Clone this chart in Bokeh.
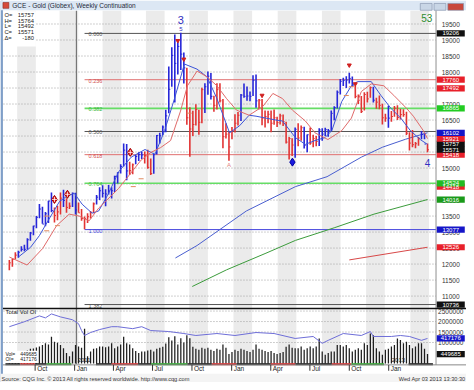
from bokeh.plotting import figure
from bokeh.models import Range1d
from bokeh.core.properties import value
from bokeh.embed import file_html
from bokeh.resources import INLINE

# ---------------- data (weekly bars, week 0 = 2 Aug 2010, prices in 1/10 $) -------------
high = [12130,12170,12370,12420,12560,12600,12810,13000,13200,13500,
        13880,13790,13630,13980,14240,13770,13820,14240,14320,14060,
        13920,14240,14230,13920,13720,13490,13590,13660,13920,14160,
        14400,14460,14340,14470,14400,14760,14870,15120,15770,15750,
        15200,15140,15410,15490,15500,15520,15570,15300,15450,16030,
        16100,16330,16820,18170,18770,19170,18960,19230,18610,18130,
        16900,16790,16990,16820,17510,17650,18020,17970,17260,17650,
        17650,17160,16400,16140,16280,16680,16750,17310,17640,17550,
        17390,17900,17920,17160,17160,16800,16790,16800,16830,16600,
        16700,16670,16450,15970,15930,16270,16400,16330,16290,16050,
        16270,16040,16000,16240,16240,16260,16220,16800,16930,17420,
        17780,17820,17870,17980,17860,17570,17300,17250,17370,17380,
        17550,17540,17200,17270,17010,16700,16950,16780,16940,16960,
        16850,16840,16760,16120,16190,15810,15970,16160,16100,15764]
low = [11810,11920,12150,12200,12390,12400,12450,12730,12900,13120,
       13430,13260,13180,13280,13620,13300,13370,13550,13780,13600,
       13720,13780,13550,13600,13350,13090,13280,13420,13590,13860,
       14000,14080,13810,14170,14050,14250,14520,14830,15050,14620,
       14780,14810,15120,15220,15280,15140,14980,14780,14820,15420,
       15770,16030,16120,16710,17540,17050,17920,18060,17640,16350,
       15350,16000,16330,16040,16400,16720,17290,17140,16760,16830,
       17050,15620,15920,15230,15900,16110,16330,16470,17200,17100,
       17090,17250,16880,16840,16340,16270,16400,16120,16350,16280,
       16360,16310,15770,15270,15380,15320,15680,15850,15610,15490,
       15730,15650,15680,15690,15850,16000,15980,16150,16490,16860,
       17300,17560,17500,17640,17540,17180,17000,16720,16800,17050,
       17200,17050,16850,16840,16360,16450,16260,16450,16600,16500,
       16520,16600,16030,15550,15650,15620,15700,15900,15900,15492]
close = [12040,12150,12280,12370,12460,12460,12760,12970,13190,13460,
         13720,13250,13570,13970,13670,13520,13630,14060,13990,13770,
         13810,14210,13690,13600,13420,13420,13480,13610,13880,14090,
         14290,14210,14190,14280,14290,14740,14860,15050,15560,14910,
         14920,15100,15360,15420,15410,15390,15020,14830,15420,16020,
         16010,16280,16630,17460,18520,18270,18800,18560,18130,16570,
         16220,16360,16830,16430,17450,17540,17870,17240,16960,17450,
         17100,15980,16060,15660,16170,16400,16650,17280,17240,17250,
         17240,17740,17100,17120,16560,16610,16680,16400,16570,16420,
         16630,16450,15810,15920,15720,16210,15940,16260,15710,16040,
         15780,15920,15830,16190,16060,16200,16170,16710,16890,17370,
         17710,17740,17750,17800,17590,17240,17120,16770,17300,17160,
         17510,17120,17060,16960,16570,16560,16560,16610,16870,16580,
         16670,16670,16090,15780,15730,15760,15920,16050,15751,15571]
trend_runs = [("r", 3), ("b", 12), ("r", 3), ("b", 1), ("r", 2), ("b", 2), ("r", 6),
              ("b", 11), ("r", 2), ("b", 3), ("r", 3), ("b", 11), ("r", 6), ("b", 3),
              ("r", 9), ("b", 6), ("r", 12), ("b", 1), ("r", 2), ("b", 2), ("r", 3),
              ("b", 12), ("r", 6), ("b", 1), ("r", 4), ("b", 1), ("r", 10), ("b", 2), ("r", 1)]
vol_k = [480,450,520,500,560,600,620,700,720,760,
         810,880,960,900,1275,1040,995,880,730,495,
         340,575,880,810,750,1660,340,575,700,730,
         810,810,780,810,960,730,810,900,1275,960,
         900,730,600,495,575,575,620,650,575,700,
         750,800,950,1250,1100,1300,900,1200,1000,1350,
         1200,800,700,650,750,700,750,650,600,700,
         650,900,750,450,550,650,600,700,650,600,
         550,650,900,700,650,600,550,600,500,450,
         500,550,800,900,750,730,730,810,650,730,
         810,730,810,1195,575,415,495,575,575,880,
         880,810,880,730,575,650,730,650,960,880,
         1430,1350,730,575,415,650,700,810,880,1195,
         1115,960,1040,880,730,810,960,960,700,449.685]
oi_week = [0, 5, 10, 12, 14, 17, 21, 23, 24, 25, 27, 30, 34, 36, 41, 44, 47, 53, 58, 62,
           69, 75, 82, 88, 95, 101, 104, 106, 111, 117, 120, 121, 127, 130, 133, 137, 139]
oi_val = [536000, 586000, 645000, 625000, 665000, 635000, 606000, 566000, 497000, 447000,
          477000, 507000, 536000, 536000, 516000, 536000, 497000, 487000, 467000, 447000,
          467000, 447000, 477000, 467000, 417000, 437000, 368000, 398000, 467000, 447000,
          487000, 437000, 437000, 447000, 437000, 398000, 417176]
fast_ma_week = [3, 7, 10, 13.4, 16.7, 19, 21.6, 24.2, 27.5, 29.7, 33, 36.3, 40.5, 45.1, 48.4,
                51.6, 54.9, 58.2, 62.4, 65.7, 69, 73.2, 76.5, 79.7, 82, 85.3, 88.6, 90.8, 95.1,
                98.4, 101.6, 104.9, 107.2, 110.5, 113.7, 115.7, 120.3, 123.5, 126.8, 130.1,
                133.3, 136.6, 139]
fast_ma_val = [12220, 12520, 12890, 13440, 13960, 14110, 14210, 13870, 13590, 13660, 14210,
               14880, 15340, 15580, 15430, 16170, 17170, 18250, 18090, 17850, 17170, 16100,
               16320, 16650, 16620, 16560, 16500, 16470, 15950, 15740, 15860, 15950, 16170,
               17080, 17570, 17700, 17700, 17270, 16870, 16560, 16170, 15890, 15740]
slow_ma_week = [0, 5.9, 11.1, 15.7, 19.9, 23.2, 26.5, 29.7, 36.3, 43.8, 47.1, 50.3, 53.6, 56.9,
                59.2, 62.4, 65.7, 69, 72.2, 75.5, 79.7, 84.3, 87.6, 90.8, 94.1, 98.4, 101.6,
                105.9, 110.5, 113.7, 117, 120.3, 124.5, 127.8, 132, 134.3, 137.6, 139]
slow_ma_val = [12220, 11970, 12490, 13200, 13560, 13500, 13350, 13750, 14360, 15250, 15490,
               15640, 15860, 16780, 17570, 18030, 17850, 17570, 17170, 16810, 16650, 16930,
               17330, 17170, 16810, 16470, 16100, 15890, 16170, 16560, 17390, 17630, 17570,
               17270, 16870, 16620, 16170, 15921]
long_blue_week = [55.2, 62.4, 78.8, 95.1, 105.6, 117, 124, 131.7, 139]
long_blue_val = [12190, 12580, 13660, 14420, 14730, 15340, 15650, 15900, 16102]
long_green_week = [60.8, 72.2, 85.3, 95.1, 108.2, 121.2, 139]
long_green_val = [11300, 11820, 12340, 12740, 13140, 13560, 14016]
long_red_week = [113, 139]
long_red_val = [12130, 12526]

fib_start_week = 25
fib_ratio = ["0.000", "0.236", "0.382", "0.500", "0.618", "0.764", "1.000", "1.382"]
fib_level = [19206, 17760, 16865, 16142, 15418, 14524, 13077, 10736]
fib_color = ["#555555", "#e07070", "#66dd66", "#555555", "#e07070", "#66dd66", "#4444dd", "#555555"]
fib_text_color = ["#555555", "#d05050", "#3cb83c", "#555555", "#d05050", "#3cb83c", "#4444dd", "#555555"]

price_ticks = [11000, 11500, 12000, 12500, 13000, 13500, 14000, 14500, 15000, 15500, 16000,
               16500, 17000, 17500, 18000, 18500, 19000, 19500]
price_tick_labels = ["11000", "11500", "12000", "12500", "13000", "13500", "14000", "14500",
                     "15000", "15500", "16000", "16500", "17000", "17500", "18000", "18500",
                     "19000", "19500"]
value_boxes = [10736, 12526, 13077, 14016, 14418, 14524, 15418, 15571, 15757, 15921, 16102,
               16865, 17492, 17760, 19206]
value_box_color = ["#111111", "#e8202a", "#1515c8", "#1a9a1a", "#e8202a", "#22bb22", "#e8202a",
                   "#111111", "#111111", "#e8202a", "#1515c8", "#22cc22", "#e8202a", "#e8202a",
                   "#111111"]
vol_ticks_k = [1000, 1500, 2000, 2500]
vol_tick_labels = ["1000000", "1500000", "2000000", "2500000"]

quarter_week = [8.57, 21.7, 34.6, 47.6, 60.7, 73.9, 86.9, 99.9, 113.0, 126.1]
quarter_label = ["Oct", "Jan", "Apr", "Jul", "Oct", "Jan", "Apr", "Jul", "Oct", "Jan"]
year_week = [21.7, 126.1]
year_label = ["2011", "2013"]
stripe_start = [2.6, 16.7, 31.0, 45.4, 59.8, 74.5, 89.2, 103.9, 118.6, 133.3]
stripe_len = 6.2
season_start = [-1.3, 3.6, 8.5, 12.4, 28.8, 34.0, 42.8, 47.1, 59.2, 67.3, 75.5, 86.9, 95.1, 107.2, 113.7, 132.7]
season_end = [3.6, 8.5, 12.4, 20.6, 34.0, 42.8, 47.1, 59.2, 67.3, 75.5, 86.9, 95.1, 107.2, 113.7, 124.5, 140.8]
season_col = ["k", "r", "k", "g", "k", "r", "k", "g", "k", "r", "k", "r", "k", "r", "g", "k"]

signal_red_week = [15, 19.3, 40.2]
signal_red_val = [14020, 14180, 15490]
signal_blue_week = [94.1]
signal_blue_val = [15185]
top_mark_week = [56, 58, 84, 113, 115]
top_mark_val = [18980, 18400, 17270, 18215, 17630]
swing_week = [12.4, 16, 12.4, 43.8, 41.2, 59.8, 112, 113.7]
swing_val = [13500, 13200, 13040, 14665, 14420, 16715, 17266, 17542]

ohlc_names = ["O=", "H=", "L=", "C=", "\u0394="]
ohlc_values = ["15757", "15764", "15492", "15571", "-180"]

# ---------------- figure -------------
FONT = value("Liberation Sans")
BLUE, RED = "#2727d8", "#e23434"
p = figure(width=466, height=382, x_range=Range1d(-2.941, 151.96), y_range=Range1d(8300.4, 20234.4),
           output_backend="svg", toolbar_location=None, x_axis_type=None, y_axis_type=None,
           min_border=0)
p.outline_line_color = None
p.background_fill_color = "white"
p.border_fill_color = "white"
p.extra_x_ranges = {"px": Range1d(0, 474)}
p.extra_y_ranges = {"px": Range1d(390, 0), "vol": Range1d(-905.98, 17307.02),
                    "oi": Range1d(-28100, 3832900)}
PX = dict(x_range_name="px", y_range_name="px")
right_edge = 141.83
left_edge = -1.95


def txt(xs, ys, texts, size="6.5px", color="#222222", align="left", baseline="middle",
        xr="px", yr="px", style="normal", xo=0, yo=0):
    p.text(x=list(xs), y=list(ys), text=list(texts), text_font=FONT, text_font_size=size,
           text_color=color, text_align=align, text_baseline=baseline, text_font_style=style,
           x_offset=xo, y_offset=yo, x_range_name=xr, y_range_name=yr)


# stripes (both panels)
p.quad(left=stripe_start, right=[s + stripe_len for s in stripe_start], top=10.5, bottom=371,
       y_range_name="px", fill_color="#ebebeb", line_color=None)
# horizontal dotted grid
p.segment(x0=left_edge, x1=right_edge, y0=price_ticks, y1=price_ticks, line_color="#a0a0a0",
          line_dash="1 2", line_width=1)
p.segment(x0=left_edge, x1=right_edge, y0=vol_ticks_k, y1=vol_ticks_k, y_range_name="vol",
          line_color="#a0a0a0", line_dash="1 2", line_width=1)
# year line (cursor)
p.segment(x0=[22.3], x1=[22.3], y0=[10.5], y1=[371], y_range_name="px", line_color="#777777", line_width=1.2)

# fib retracement lines
for lv, c, r in zip(fib_level, fib_color, fib_ratio):
    p.segment(x0=[fib_start_week], x1=[right_edge], y0=[lv], y1=[lv], line_color=c,
              line_width=1.6 if c == "#66dd66" else 1)
txt([fib_start_week] * len(fib_level), fib_level, fib_ratio, size="5.5px", color=fib_text_color,
    xr="default", yr="default", xo=4, yo=1)

# long moving averages
p.line(long_blue_week, long_blue_val, line_color="#4a5fd0", line_width=1)
p.line(long_green_week, long_green_val, line_color="#3c9c3c", line_width=1)
p.line(long_red_week, long_red_val, line_color="#d84848", line_width=1)

# price bars
weeks = list(range(len(high)))
bar_colors = []
for c, n in trend_runs:
    bar_colors += [BLUE if c == "b" else RED] * n
p.segment(x0=weeks, x1=weeks, y0=low, y1=high, line_color=bar_colors, line_width=1.6)
p.segment(x0=weeks, x1=[w + 0.5 for w in weeks], y0=close, y1=close, line_color=bar_colors, line_width=1)

# fast / slow averages
p.line(fast_ma_week, fast_ma_val, line_color="#3d55d8", line_width=1)
p.line(slow_ma_week, slow_ma_val, line_color="#e06a6a", line_width=1)

# markers
p.scatter(signal_red_week, signal_red_val, marker="diamond", size=8, fill_color="#e01010", line_color="#a00000")
p.scatter(signal_red_week, signal_red_val, marker="cross", size=5, line_color="#ffffff", line_width=0.8)
p.scatter(signal_blue_week, signal_blue_val, marker="diamond", size=8, fill_color="#1a1ae0", line_color="#0000a0")
p.scatter(top_mark_week, top_mark_val, marker="inverted_triangle", size=4, fill_color="#d02020", line_color="#d02020")
p.scatter(swing_week, swing_val, marker="dash", size=5, line_color="#e08a60", line_width=1)
txt([57], [high[57]], ["3"], size="11px", color="#3030c0", align="center", baseline="bottom", xr="default", yr="default", yo=-9)
txt([57], [high[57]], ["5"], size="6px", color="#3030c0", align="center", baseline="bottom", xr="default", yr="default", yo=-2)
txt([139], [low[139]], ["4"], size="10px", color="#3030c0", align="center", baseline="top", xr="default", yr="default", yo=7)
txt([73], [low[73]], ["A"], size="6px", color="#e08080", align="center", baseline="top", xr="default", yr="default", yo=1)

# volume + open interest
p.vbar(x=weeks, top=vol_k, bottom=0, width=0.42, y_range_name="vol", fill_color="#1e1e1e", line_color=None)
p.line(oi_week, oi_val, y_range_name="oi", line_color="#6e6ed8", line_width=1)

# season strip under volume
scol = {"k": "#111111", "r": "#d02020", "g": "#20a020"}
p.segment(x0=season_start, x1=season_end, y0=371.3, y1=371.3, y_range_name="px",
          line_color=[scol[c] for c in season_col], line_width=2)

# ---------------- chrome -------------
# right label column
p.quad(left=443, right=474, top=10, bottom=372, fill_color="white", line_color=None, **PX)
p.segment(x0=[443], x1=[443], y0=[10], y1=[372], line_color="#909090", line_width=1, **PX)
# panel separator & borders
p.segment(x0=[2], x1=[474], y0=[314.5], y1=[314.5], line_color="#111111", line_width=1.5, **PX)
p.segment(x0=[2], x1=[474], y0=[372], y1=[372], line_color="#888888", line_width=1, **PX)
p.segment(x0=[1.2], x1=[1.2], y0=[0], y1=[390], line_color="#7f9fc8", line_width=2.5, **PX)
# title bar
p.quad(left=0, right=474, top=0, bottom=10, fill_color="#dce7f4", line_color=None, **PX)
p.quad(left=2.5, right=8.5, top=2, bottom=8, fill_color="#d64a3a", line_color="#8a2a20", line_width=0.6, **PX)
txt([12], [5.3], ["GCE - Gold (Globex), Weekly Continuation"], size="6.5px", color="#1e2a3a")
p.quad(left=[427, 441, 455], right=[439, 453, 471], top=3, bottom=10,
       fill_color=["#c9d6e6", "#c9d6e6", "#c8483c"], line_color="#7f8fa8", line_width=0.6, **PX)
# OHLC box
p.quad(left=3, right=36, top=11, bottom=47, fill_color="white", line_color=None, **PX)
ys = [14.5, 20.5, 26.5, 32.5, 38.5]
txt([4] * 5, ys, ohlc_names, size="5.8px", color="#222222")
txt([34] * 5, ys, ohlc_values, size="5.8px", color="#222222", align="right")
txt([428], [18], ["53"], size="10px", color="#2e8b2e", align="left")

# right price labels and value boxes
txt([458] * len(price_ticks), price_ticks, price_tick_labels, size="6.5px", color="#333333",
    align="center", yr="default")
p.rect(x=[458] * len(value_boxes), y=value_boxes, width=28, height=6.2, width_units="screen",
       height_units="screen", fill_color=value_box_color, line_color=None, x_range_name="px")
txt([458] * len(value_boxes), value_boxes, [str(v) for v in value_boxes], size="6px",
    color="#ffffff", align="center", yr="default")
# volume labels
txt([458] * len(vol_ticks_k), vol_ticks_k, vol_tick_labels, size="6.5px", color="#333333",
    align="center", yr="vol")
p.rect(x=[458], y=[oi_val[-1]], width=28, height=6.2, width_units="screen", height_units="screen",
       fill_color="#1515c8", line_color=None, x_range_name="px", y_range_name="oi")
txt([458], [oi_val[-1]], ["417176"], size="6px", color="#ffffff", align="center", yr="oi")
p.rect(x=[458], y=[vol_k[-1]], width=28, height=6.2, width_units="screen", height_units="screen",
       fill_color="#111111", line_color=None, x_range_name="px", y_range_name="vol")
txt([458], [vol_k[-1]], ["449685"], size="6px", color="#ffffff", align="center", yr="vol")

txt([5], [318], ["Total Vol OI"], size="6px", color="#222222")
p.quad(left=4, right=38, top=357.5, bottom=370, fill_color="white", line_color=None, **PX)
txt([5, 5], [360.5, 366.5], ["Vol=", "OI="], size="5px")
txt([37, 37], [360.5, 366.5], ["449685", "417176"], size="5px", align="right")
# year labels
txt(year_week, [367] * 2, year_label, size="6px", color="#222222", xr="default", xo=3)

# x axis labels
p.segment(x0=quarter_week, x1=quarter_week, y0=372, y1=378, y_range_name="px", line_color="#333333", line_width=1)
txt(quarter_week, [375.5] * len(quarter_week), quarter_label, size="6.5px", color="#222222", xr="default", xo=2)
# footer
p.quad(left=0, right=474, top=381, bottom=390, fill_color="#f4f4f4", line_color=None, **PX)
txt([1], [386], ["Source: CQG Inc. \u00a9 2013 All rights reserved worldwide. http://www.cqg.com"], size="5.6px", color="#333333")
txt([473], [386], ["Wed Apr 03 2013 13:30:30"], size="5.6px", color="#333333", align="right")

open("out.html", "w").write(file_html(p, INLINE))
